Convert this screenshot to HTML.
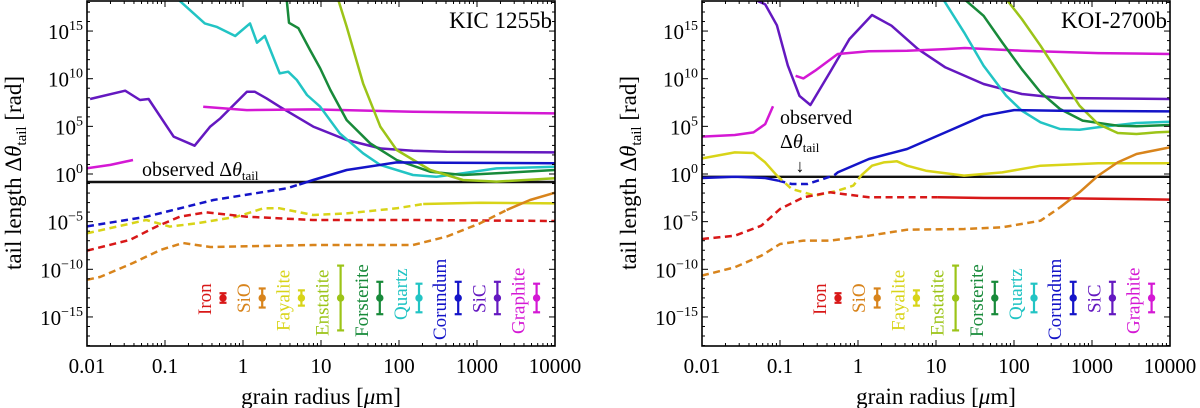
<!DOCTYPE html>
<html><head><meta charset="utf-8"><style>
html,body{margin:0;padding:0;background:#fff;}
svg{display:block;font-family:"Liberation Serif",serif;}
</style></head><body>
<svg id="chart" width="1200" height="408" viewBox="0 0 1200 408" xmlns="http://www.w3.org/2000/svg"></svg>
<script>
// ---- data: log10 grain radius [um] and log10 tail length [rad] ----
const xTickLabels = ["0.01","0.1","1","10","100","1000","10000"];
const yTickExps = [15,10,5,0,-5,-10,-15];
const materials = ["Iron","SiO","Fayalite","Enstatite","Forsterite","Quartz","Corundum","SiC","Graphite"];
const materialColors = ["#d81818","#d8841c","#d8d418","#9cc418","#188a3a","#22c4c4","#1414c8","#6418c0","#d418d4"];
const legendErrLo = [0.5,1.0,0.8,3.4,1.7,1.5,1.7,1.7,1.5];
const legendErrHi = [0.5,1.0,0.8,3.4,1.7,1.5,1.7,1.7,1.5];

// Left panel KIC 1255b
const kSiCX=[-1.96,-1.51,-1.32,-1.21,-0.89,-0.62,-0.42,-0.29,0.05,0.15,0.30,0.47,0.90,1.33,1.76,2.18,2.61,4.0];
const kSiCY=[7.87,8.74,7.76,7.87,3.92,2.97,4.97,5.84,8.64,8.64,7.94,7.06,4.97,3.57,2.69,2.45,2.34,2.27];
const kGr1X=[-2,-1.7,-1.41]; const kGr1Y=[0.6,0.95,1.47];
const kGr2X=[-0.51,0.05,0.9,2.18,4.0]; const kGr2Y=[7.06,6.71,6.78,6.54,6.36];
const kQzX=[-0.83,-0.49,-0.34,-0.10,0.09,0.18,0.28,0.47,0.58,0.69,0.82,0.99,1.24,1.54,1.76,2.18,2.48,2.82,3.25,4.0];
const kQzY=[18.3,15.8,15.45,14.48,15.8,13.78,14.48,10.56,10.73,9.86,8.29,7.06,4.27,2.17,0.94,-0.1,-0.28,0.07,0.59,0.77];
const kFoX=[0.56,0.59,0.71,0.86,0.99,1.12,1.33,1.63,1.97,2.4,2.82,3.25,4.0];
const kFoY=[18.3,15.87,15.3,13.0,11.08,8.81,5.66,3.22,1.47,0.24,-0.1,0.07,0.42];
const kEnX=[1.22,1.33,1.54,1.76,1.97,2.4,2.82,3.25,4.0];
const kEnY=[18.3,15.45,9.51,4.97,2.52,0.42,-0.63,-0.8,-0.45];
const kCoDX=[-2,-1.24,-0.38,0.56,0.72]; const kCoDY=[-5.5,-4.48,-2.73,-1.5,-1.1];
const kCoSX=[0.72,0.9,1.33,1.97,2.61,4.0]; const kCoSY=[-1.1,-0.63,0.42,1.22,1.19,1.12];
const kFaDX=[-2,-1.24,-0.94,-0.59,-0.08,0.26,0.47,0.9,1.33,1.97,2.31]; const kFaDY=[-6.22,-4.83,-5.52,-5.17,-4.48,-3.6,-3.6,-4.3,-4.13,-3.6,-3.15];
const kFaSX=[2.31,3.04,4.0]; const kFaSY=[-3.15,-3.01,-3.08];
const kFeX=[-2,-1.45,-1.11,-0.81,-0.47,0.05,0.9,2.18,4.0]; const kFeY=[-8.04,-6.92,-5.52,-4.48,-4.02,-4.48,-4.83,-4.83,-4.93];
const kSiODX=[-2,-1.83,-1.41,-1.06,-0.77,-0.42,0.9,2.18,2.61,3.04,3.38]; const kSiODY=[-11.1,-10.8,-9.34,-7.97,-7.24,-7.66,-7.45,-7.45,-6.57,-5.17,-3.78];
const kSiOSX=[3.38,3.68,4.0]; const kSiOSY=[-3.78,-2.73,-1.96];
const kObs=-0.84;

// Right panel KOI-2700b
const oSiCX=[-1.34,-1.19,-1.04,-0.9,-0.75,-0.61,-0.36,-0.11,0.18,0.43,0.77,1.12,1.61,2.1,2.59,4.0];
const oSiCY=[18.36,17.8,15.6,11.4,8.2,7.24,10.66,14.16,16.68,15.56,13.1,11.19,9.44,8.39,7.97,7.87];
const oGr1X=[-2,-1.58,-1.34,-1.19,-1.09]; const oGr1Y=[3.92,4.09,4.37,5.24,7.1];
const oGr2X=[-0.8,-0.7,-0.55,-0.26,0.14,0.63,1.12,1.37,2.1,3.08,4.0]; const oGr2Y=[10.3,10.03,10.84,12.59,12.87,12.94,13.11,13.22,12.94,12.69,12.59];
const oQzX=[1.09,1.36,1.61,1.9,2.1,2.34,2.59,2.84,3.08,3.57,4.0]; const oQzY=[18.36,14.86,11.36,8.22,6.64,5.42,4.72,4.65,4.9,5.35,5.49];
const oFoX=[1.36,1.61,1.85,2.1,2.34,2.59,2.88,3.33,3.57,4.0]; const oFoY=[18.36,16.6,13.8,11.0,8.57,6.82,5.6,5.07,5.0,5.14];
const oEnX=[1.9,2.1,2.34,2.59,2.84,3.08,3.33,3.57,3.82,4.0]; const oEnY=[18.36,16.26,13.46,10.31,7.17,5.24,4.3,4.2,4.37,4.44];
const oCo1X=[-2,-1.58,-1.19,-1.02]; const oCo1Y=[-0.42,-0.28,-0.42,-0.7];
const oCoDX=[-1.02,-0.85,-0.65,-0.45,-0.3]; const oCoDY=[-0.7,-1.05,-1.05,-0.52,-0.1];
const oCo2X=[-0.3,-0.26,0.14,0.63,1.12,1.61,2.0,2.59,4.0]; const oCo2Y=[-0.1,0.17,1.57,2.62,4.37,6.12,6.71,6.64,6.57];
const oFa1X=[-2,-1.58,-1.34,-1.19,-1.04]; const oFa1Y=[1.64,2.27,2.2,1.22,-0.17];
const oFaDX=[-1.04,-0.85,-0.55,-0.26,-0.06,0.04]; const oFaDY=[-0.17,-1.57,-2.27,-1.75,-1.22,-0.17];
const oFa2X=[0.04,0.18,0.33,0.5,0.63,0.87,1.36,1.85,2.34,3.08,4.0]; const oFa2Y=[-0.17,0.87,1.22,1.33,0.87,0.35,-0.17,0.17,0.87,1.12,1.12];
const oFeDX=[-2,-1.58,-1.24,-1.0,-0.7,-0.36,0.14,1.02]; const oFeDY=[-6.82,-6.47,-5.42,-3.67,-2.45,-1.92,-2.45,-2.45];
const oFeSX=[1.02,1.61,2.59,4.0]; const oFeSY=[-2.45,-2.52,-2.55,-2.69];
const oSiODX=[-2,-1.58,-1.24,-1.0,-0.7,-0.36,0.14,0.63,1.36,1.85,2.34,2.59]; const oSiODY=[-10.66,-9.79,-8.57,-7.34,-6.99,-6.99,-6.47,-5.84,-5.77,-5.59,-4.9,-3.5];
const oSiOSX=[2.59,2.84,3.08,3.33,3.57,4.0]; const oSiOSY=[-3.5,-1.92,-0.17,1.22,2.1,2.8];
const oObs=-0.3;

const NS="http://www.w3.org/2000/svg";
const svg=document.getElementById('chart');
function mk(tag,attrs,parent){const e=document.createElementNS(NS,tag);for(const k in attrs)e.setAttribute(k,attrs[k]);(parent||svg).appendChild(e);return e;}

const PW=468, TOP=1, BOT=346;
function yScale(v){return 174-9.53*v;}

function panel(x0, title, curves, obs, id){
  const g=mk('g',{});
  
  
  const xs=v=>x0+(v+2)*78;
  const cp=mk('clipPath',{id:'clip-'+id},g);
  mk('rect',{x:x0,y:TOP,width:PW,height:BOT-TOP},cp);
  const cg=mk('g',{'clip-path':'url(#clip-'+id+')'},g);
  const ol=mk('line',{x1:x0,x2:x0+PW,y1:yScale(obs),y2:yScale(obs),stroke:'#111','stroke-width':2.4},cg);
  
  
  curves.forEach(c=>{
    const pts=c[0].map((v,i)=>xs(v).toFixed(1)+','+yScale(c[1][i]).toFixed(1)).join(' ');
    const p=mk('polyline',{points:pts,fill:'none',stroke:materialColors[c[2]],'stroke-width':2.5,'stroke-linejoin':'round'},cg);
    if(c[3])p.setAttribute('stroke-dasharray','7 4.5');
    
    
  });
  const fr=mk('rect',{x:x0,y:TOP,width:PW,height:BOT-TOP,fill:'none',stroke:'#000','stroke-width':1.6},g);
  
  
  xTickLabels.forEach((lab,i)=>{
    const X=x0+i*78;
    mk('line',{x1:X,x2:X,y1:BOT,y2:BOT-6,stroke:'#000'},g);
    mk('line',{x1:X,x2:X,y1:TOP,y2:TOP+6,stroke:'#000'},g);
    if(i<6)for(let m=2;m<10;m++){const mx=X+Math.log10(m)*78;
      mk('line',{x1:mx,x2:mx,y1:BOT,y2:BOT-3,stroke:'#000'},g);
      mk('line',{x1:mx,x2:mx,y1:TOP,y2:TOP+3,stroke:'#000'},g);}
    const t=mk('text',{x:X,y:373,'font-size':21,'text-anchor':'middle'},g);
    t.textContent=lab;
    
    
  });
  for(let e=-18;e<=18;e++){const Y=yScale(e);const big=e%5===0;
    mk('line',{x1:x0,x2:x0+(big?6:3),y1:Y,y2:Y,stroke:'#000'},g);
    mk('line',{x1:x0+PW,x2:x0+PW-(big?6:3),y1:Y,y2:Y,stroke:'#000'},g);}
  yTickExps.forEach(e=>{
    const Y=yScale(e);
    const t=mk('text',{x:x0-4,y:Y+8,'font-size':21,'text-anchor':'end'},g);
    
    
    const a=mk('tspan',{},t);a.textContent='10';
    const b=mk('tspan',{dy:-9,'font-size':14},t);b.textContent=(e<0?'\u2212'+(-e):String(e));
  });
  const tt=mk('text',{x:x0+PW-3,y:28,'font-size':23,'text-anchor':'end'},g);
  tt.textContent=title;
  
  
  const xt=mk('text',{x:x0+234,y:404,'font-size':23,'text-anchor':'middle'},g);
  xt.innerHTML='grain radius [<tspan font-style="italic">μ</tspan>m]';
  
  
  const yt=mk('text',{transform:'translate('+(x0-66)+',173) rotate(-90)','font-size':23,'text-anchor':'middle'},g);
  yt.innerHTML='tail length Δ<tspan font-style="italic">θ</tspan><tspan font-size="15" dy="5">tail</tspan><tspan dy="-5"> [rad]</tspan>';
  
  
  const lg=mk('g',{},g);
  
  
  const labBottom=[315,313,331,336,337,320,340,313,334];
  materials.forEach((m,i)=>{
    const X=x0+136+i*39.2, Y=298;
    const col=materialColors[i];
    const lo=Y+legendErrLo[i]*9.53, hi=Y-legendErrHi[i]*9.53;
    mk('line',{x1:X,x2:X,y1:hi,y2:lo,stroke:col,'stroke-width':2.2},lg);
    mk('line',{x1:X-3.5,x2:X+3.5,y1:hi,y2:hi,stroke:col,'stroke-width':2.2},lg);
    mk('line',{x1:X-3.5,x2:X+3.5,y1:lo,y2:lo,stroke:col,'stroke-width':2.2},lg);
    const d=mk('circle',{cx:X,cy:Y,r:3.7,fill:col},lg);
    
    
    const t=mk('text',{transform:'translate('+(X-12)+','+labBottom[i]+') rotate(-90)','font-size':19,fill:col},lg);
    t.textContent=m;
    
    
  });
  return g;
}

panel(87,'KIC 1255b',[
 [kSiCX,kSiCY,7,0],[kGr1X,kGr1Y,8,0],[kGr2X,kGr2Y,8,0],[kQzX,kQzY,5,0],[kFoX,kFoY,4,0],[kEnX,kEnY,3,0],
 [kCoDX,kCoDY,6,1],[kCoSX,kCoSY,6,0],[kFaDX,kFaDY,2,1],[kFaSX,kFaSY,2,0],[kFeX,kFeY,0,1],
 [kSiODX,kSiODY,1,1],[kSiOSX,kSiOSY,1,0]
],kObs,'kic');
panel(702,'KOI-2700b',[
 [oSiCX,oSiCY,7,0],[oGr1X,oGr1Y,8,0],[oGr2X,oGr2Y,8,0],[oQzX,oQzY,5,0],[oFoX,oFoY,4,0],[oEnX,oEnY,3,0],
 [oCo1X,oCo1Y,6,0],[oCoDX,oCoDY,6,1],[oCo2X,oCo2Y,6,0],[oFa1X,oFa1Y,2,0],[oFaDX,oFaDY,2,1],[oFa2X,oFa2Y,2,0],
 [oFeDX,oFeDY,0,1],[oFeSX,oFeSY,0,0],[oSiODX,oSiODY,1,1],[oSiOSX,oSiOSY,1,0]
],oObs,'koi');

const a1=mk('text',{x:142,y:176,'font-size':20});
a1.innerHTML='observed Δ<tspan font-style="italic">θ</tspan><tspan font-size="13" dy="4">tail</tspan>';


const a2=mk('text',{x:780,y:124,'font-size':20});a2.textContent='observed';


const a3=mk('text',{x:780,y:148,'font-size':20});
a3.innerHTML='Δ<tspan font-style="italic">θ</tspan><tspan font-size="13" dy="4">tail</tspan>';


const ar=mk('text',{x:800,y:172,'font-size':18,'text-anchor':'middle'});ar.textContent='↓';


</script>
</body></html>
